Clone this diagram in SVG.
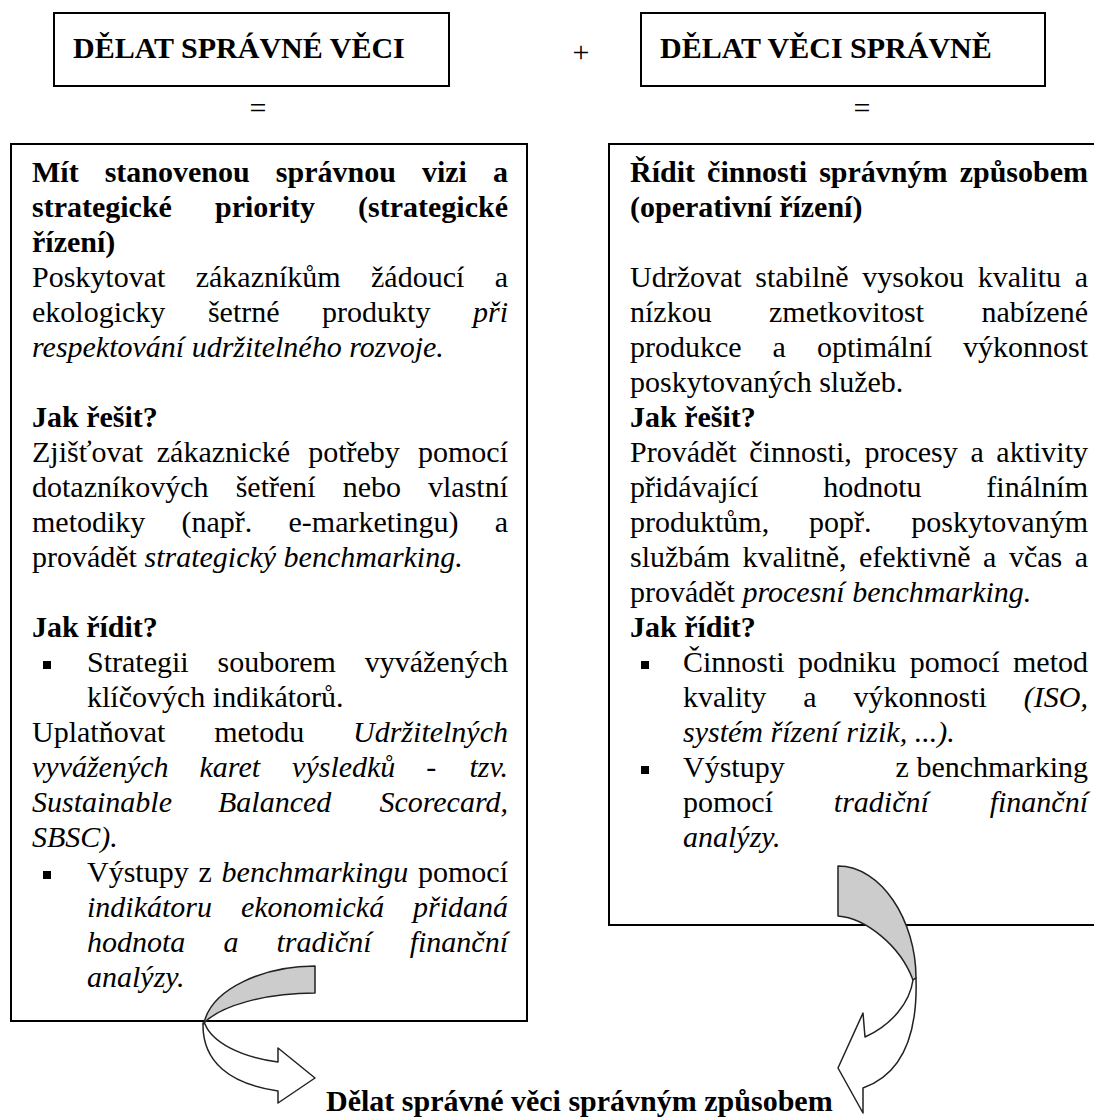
<svg xmlns="http://www.w3.org/2000/svg" width="1094" height="1117" viewBox="0 0 1094 1117">
  <style>
    text { font-family: "Liberation Serif", "Times New Roman", serif; font-size: 30px; fill: #000; }
    .b { font-weight: bold; }
    .i { font-style: italic; }
    .e { text-anchor: end; }
    .m { text-anchor: middle; }
    .box { fill: #fff; stroke: #000; stroke-width: 2; }
    .bul { fill: #000; }
    .band { stroke: #222; stroke-width: 1.5; stroke-linejoin: round; }
    .back { fill: #cccccc; }
    .front { fill: #fff; }
  </style>

  <!-- headline boxes -->
  <g id="do-right-things">
    <rect class="box" x="54" y="13" width="395" height="73"/>
    <text class="b" x="73" y="58">DĚLAT SPRÁVNÉ VĚCI</text>
  </g>
  <g id="do-things-right">
    <rect class="box" x="641" y="13" width="404" height="73"/>
    <text class="b" x="660" y="58">DĚLAT VĚCI SPRÁVNĚ</text>
  </g>

  <!-- operators between the columns -->
  <g id="operators">
    <text class="m" x="581" y="62">+</text>
    <text class="m" x="258" y="118">=</text>
    <text class="m" x="862" y="118">=</text>
  </g>

  <!-- strategic column -->
  <g id="strategic">
    <rect class="box" x="11" y="144" width="516" height="877"/>
    <text class="b" y="182"><tspan x="32">Mít</tspan><tspan x="104.7">stanovenou</tspan><tspan x="275.8">správnou</tspan><tspan x="421.9">vizi</tspan><tspan class="e" x="508">a</tspan></text>
    <text class="b" y="217"><tspan x="32">strategické</tspan><tspan x="215">priority</tspan><tspan class="e" x="508">(strategické</tspan></text>
    <text class="b" x="32" y="252">řízení)</text>
    <text y="287"><tspan x="32">Poskytovat</tspan><tspan x="195.7">zákazníkům</tspan><tspan x="371">žádoucí</tspan><tspan class="e" x="508">a</tspan></text>
    <text y="322"><tspan x="32">ekologicky</tspan><tspan x="207.9">šetrné</tspan><tspan x="322.1">produkty</tspan><tspan class="i e" x="508">při</tspan></text>
    <text class="i" x="32" y="357">respektování udržitelného rozvoje.</text>

    <text class="b" x="32" y="427">Jak řešit?</text>
    <text y="462"><tspan x="32">Zjišťovat</tspan><tspan x="156.8">zákaznické</tspan><tspan x="308.2">potřeby</tspan><tspan class="e" x="508">pomocí</tspan></text>
    <text y="497"><tspan x="32">dotazníkových</tspan><tspan x="235.7">šetření</tspan><tspan x="342.7">nebo</tspan><tspan class="e" x="508">vlastní</tspan></text>
    <text y="532"><tspan x="32">metodiky</tspan><tspan x="181.5">(např.</tspan><tspan x="288.5">e-marketingu)</tspan><tspan class="e" x="508">a</tspan></text>
    <text x="32" y="567">provádět <tspan class="i">strategický benchmarking.</tspan></text>

    <text class="b" x="32" y="637">Jak řídit?</text>
    <rect class="bul" x="43" y="661" width="8" height="8"/>
    <text y="672"><tspan x="87">Strategii</tspan><tspan x="217.5">souborem</tspan><tspan class="e" x="508">vyvážených</tspan></text>
    <text x="87" y="707">klíčových indikátorů.</text>
    <text y="742"><tspan x="32">Uplatňovat</tspan><tspan x="214.2">metodu</tspan><tspan class="i e" x="508">Udržitelných</tspan></text>
    <text class="i" y="777"><tspan x="32">vyvážených</tspan><tspan x="199.5">karet</tspan><tspan x="292.1">výsledků</tspan><tspan x="426.3">-</tspan><tspan class="e" x="508">tzv.</tspan></text>
    <text class="i" y="812"><tspan x="32">Sustainable</tspan><tspan x="218">Balanced</tspan><tspan class="e" x="508">Scorecard,</tspan></text>
    <text class="i" x="32" y="847">SBSC).</text>
    <rect class="bul" x="43" y="871" width="8" height="8"/>
    <text y="882"><tspan x="87">Výstupy</tspan><tspan x="198.5">z</tspan><tspan class="i" x="221.6">benchmarkingu</tspan><tspan class="e" x="508">pomocí</tspan></text>
    <text class="i" y="917"><tspan x="87">indikátoru</tspan><tspan x="240.9">ekonomická</tspan><tspan class="e" x="508">přidaná</tspan></text>
    <text class="i" y="952"><tspan x="87">hodnota</tspan><tspan x="223.4">a</tspan><tspan x="276.5">tradiční</tspan><tspan class="e" x="508">finanční</tspan></text>
    <text class="i" x="87" y="987">analýzy.</text>
  </g>

  <!-- operational column -->
  <g id="operational">
    <rect class="box" x="609" y="144" width="500" height="781"/>
    <text class="b" y="182"><tspan x="630">Řídit</tspan><tspan x="707.1">činnosti</tspan><tspan x="819.2">správným</tspan><tspan class="e" x="1088">způsobem</tspan></text>
    <text class="b" x="630" y="217">(operativní řízení)</text>

    <text y="287"><tspan x="630">Udržovat</tspan><tspan x="755.3">stabilně</tspan><tspan x="862.3">vysokou</tspan><tspan x="977.7">kvalitu</tspan><tspan class="e" x="1088">a</tspan></text>
    <text y="322"><tspan x="630">nízkou</tspan><tspan x="769">zmetkovitost</tspan><tspan class="e" x="1088">nabízené</tspan></text>
    <text y="357"><tspan x="630">produkce</tspan><tspan x="772.6">a</tspan><tspan x="817">optimální</tspan><tspan class="e" x="1088">výkonnost</tspan></text>
    <text x="630" y="392">poskytovaných služeb.</text>
    <text class="b" x="630" y="427">Jak řešit?</text>
    <text y="462"><tspan x="630">Provádět</tspan><tspan x="749.3">činnosti,</tspan><tspan x="864.4">procesy</tspan><tspan x="970.4">a</tspan><tspan class="e" x="1088">aktivity</tspan></text>
    <text y="497"><tspan x="630">přidávající</tspan><tspan x="823.2">hodnotu</tspan><tspan class="e" x="1088">finálním</tspan></text>
    <text y="532"><tspan x="630">produktům,</tspan><tspan x="809">popř.</tspan><tspan class="e" x="1088">poskytovaným</tspan></text>
    <text y="567"><tspan x="630">službám</tspan><tspan x="742.4">kvalitně,</tspan><tspan x="859">efektivně</tspan><tspan x="983.1">a</tspan><tspan x="1008.9">včas</tspan><tspan class="e" x="1088">a</tspan></text>
    <text x="630" y="602">provádět <tspan class="i">procesní benchmarking.</tspan></text>

    <text class="b" x="630" y="637">Jak řídit?</text>
    <rect class="bul" x="641" y="661" width="8" height="8"/>
    <text y="672"><tspan x="683">Činnosti</tspan><tspan x="798">podniku</tspan><tspan x="909.7">pomocí</tspan><tspan class="e" x="1088">metod</tspan></text>
    <text y="707"><tspan x="683">kvality</tspan><tspan x="803.3">a</tspan><tspan x="853.6">výkonnosti</tspan><tspan class="i e" x="1088">(ISO,</tspan></text>
    <text class="i" x="683" y="742">systém řízení rizik, ...).</text>
    <rect class="bul" x="641" y="766" width="8" height="8"/>
    <text y="777"><tspan x="683">Výstupy</tspan><tspan class="e" x="1088">z benchmarking</tspan></text>
    <text y="812"><tspan x="683">pomocí</tspan><tspan class="i" x="833.8">tradiční</tspan><tspan class="i e" x="1088">finanční</tspan></text>
    <text class="i" x="683" y="847">analýzy.</text>
  </g>

  <!-- curved arrows leading both columns into the conclusion -->
  <g id="connectors">
    <path class="band back" d="M315,966 C265,966 212,988 204,1023 C220,1006 265,993 315,993 Z"/>
    <path class="band front" d="M205,1024 C212,1042 240,1057 278,1062 L278,1048 L315,1078 L278,1103 L278,1091 C230,1084 202,1062 203,1023 Z"/>
    <path class="band back" d="M838,866 C881,866 916,920 916,978 L913,980 C900,945 865,918 838,916 Z"/>
    <path class="band front" d="M913,980 C910,1002 892,1025 865,1037 L863,1013 L838,1068 L863,1113 L863,1088 C900,1075 918,1040 916,978 Z"/>
  </g>

  <!-- conclusion -->
  <g id="conclusion">
    <text class="b" x="326" y="1111">Dělat správné věci správným způsobem</text>
  </g>
</svg>
